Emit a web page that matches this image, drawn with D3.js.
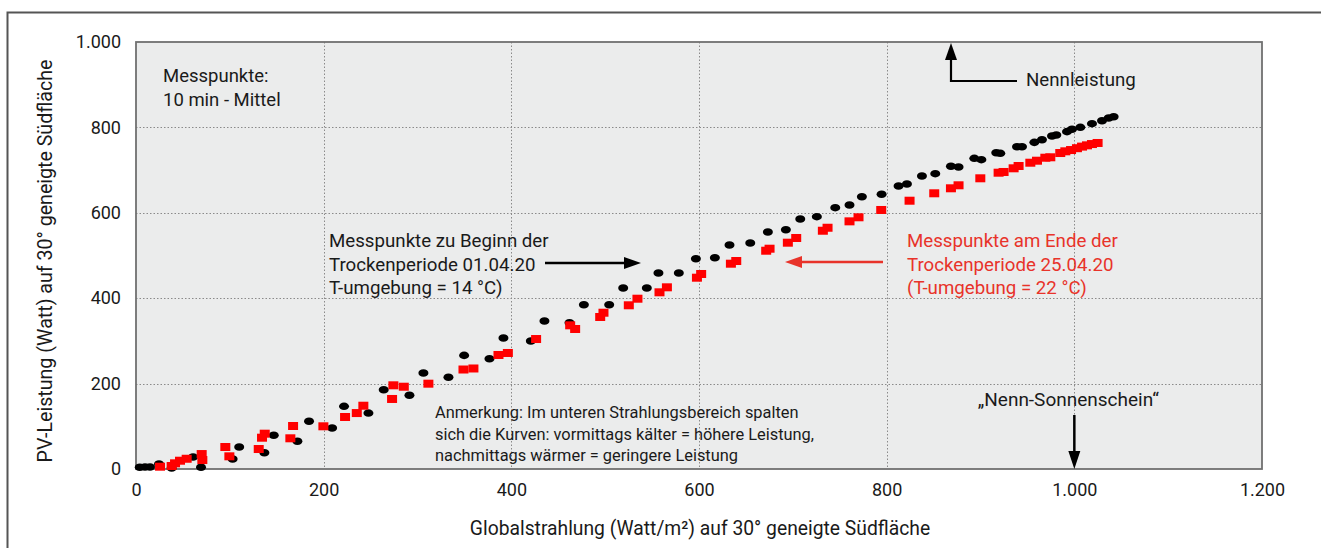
<!DOCTYPE html>
<html lang="de">
<head>
<meta charset="UTF-8"/>
<title>PV-Leistung vs. Globalstrahlung</title>
<style>
  body { margin: 0; background: #fff; }
  svg text { font-family: Roboto, "Open Sans", sans-serif; fill: #1a1a1a; }
</style>
</head>
<body>
<svg id="chart" width="1321" height="548"></svg>
<script src="https://d3js.org/d3.v7.min.js"></script>
<script type="text/javascript">

    // Messpunkte zu Beginn der Trockenperiode (01.04.20) - [Globalstrahlung, PV-Leistung]
    var beginPoints = [
        [4, 4], [9.6, 4.7], [14.9, 4.7], [24.5, 11.7], [38, 2.3], [60.8, 28], [69.3, 4],
        [103, 23.4], [110, 51.5], [136.8, 38], [146.8, 79], [172, 65], [184.4, 111.7],
        [209, 96], [221.7, 146.8], [247.7, 131], [264, 185.7], [291.4, 172.6], [306.3, 224.8],
        [333, 214.8], [349.7, 266], [376.7, 258.3], [391.6, 306.8], [420.8, 299.8],
        [435.3, 346.6], [462, 342.6], [477.3, 384.8], [504.3, 384.8], [519.2, 423.9],
        [544.4, 423.9], [556.8, 459], [578.5, 459], [596.7, 492.5], [616.9, 494.8],
        [632.5, 524.6], [654.6, 529.3], [673.4, 555], [692.6, 560.4], [707.9, 585.5],
        [725.6, 590.9], [745.2, 612], [760.4, 618.3], [773.6, 637.7], [794.6, 643.3],
        [812.7, 662.8], [821.6, 667.4], [837.6, 686.2], [851.8, 691.6], [868.5, 708.9],
        [876.6, 707.3], [893.4, 727.6], [900.9, 724.4], [916.8, 740.7], [921.1, 739.3],
        [938.9, 754.8], [944.2, 754.8], [957.4, 765], [965.5, 771.2], [976.2, 779.8],
        [980.8, 782.2], [992.2, 790], [997.5, 795.6], [1006.4, 800.2], [1018.8, 808.7],
        [1029.5, 815.7], [1036.6, 822], [1041.9, 825]
    ];

    // Messpunkte am Ende der Trockenperiode (25.04.20)
    var endPoints = [
        [25.6, 5.4], [38, 7], [41.6, 13.3], [46.9, 19.4], [54, 24], [70, 35], [70.7, 21],
        [95.2, 51.5], [99.5, 29.7], [130.8, 46.8], [134.3, 73.3], [137.2, 82.7], [164.5, 71.9],
        [167.4, 100.7], [199.7, 100], [222.8, 121.8], [235.3, 131], [242.3, 148.2],
        [272.9, 164], [274.3, 196], [285.4, 192.7], [311.6, 199.8], [349, 233], [359.6, 235.4],
        [386.3, 267], [396.3, 271.7], [426.4, 304.4], [462.7, 336.5], [468, 327.9],
        [494.7, 356], [498.2, 366], [525.2, 383.4], [534.4, 398.8], [557.9, 413.8],
        [565.8, 425.5], [597.8, 448], [602.3, 456.7], [634, 480.8], [639.7, 487.1],
        [671.6, 511.2], [675.2, 515.9], [694.7, 530], [703.6, 541], [732, 558], [737, 565],
        [760.4, 580], [770, 589.5], [794.2, 606.6], [824.4, 628.3], [850.7, 645.7],
        [868.5, 657.4], [876.6, 664.4], [899.8, 680.8], [919.3, 693.9], [924.6, 695.6],
        [935.3, 704.2], [940.6, 709.6], [953.1, 717.3], [960.2, 722], [969.1, 729],
        [974.4, 730], [985, 740], [990.4, 744], [996.5, 747], [1002.8, 751.3],
        [1008.2, 755], [1013.5, 758], [1018.8, 761], [1024.8, 763.5]
    ];

    var xTicks = [0, 200, 400, 600, 800, 1000, 1200];
    var yTicks = [0, 200, 400, 600, 800, 1000];

    var xTitle = "Globalstrahlung (Watt/m²) auf 30° geneigte Südfläche";
    var yTitle = "PV-Leistung (Watt) auf 30° geneigte Südfläche";
    var noteTopLeft = ["Messpunkte:", "10 min - Mittel"];
    var noteBegin = ["Messpunkte zu Beginn der", "Trockenperiode 01.04.20", "T-umgebung = 14 °C)"];
    var noteEnd = ["Messpunkte am Ende der", "Trockenperiode 25.04.20", "(T-umgebung = 22 °C)"];
    var noteRemark = ["Anmerkung: Im unteren Strahlungsbereich spalten",
        "sich die Kurven: vormittags kälter = höhere Leistung,",
        "nachmittags wärmer = geringere Leistung"];

    var svg = d3.select("#chart");
    var red = "#e8332a";

    var plot = {left: 136, top: 42, right: 1262, bottom: 469};

    var x = d3.scaleLinear().domain([0, 1200]).range([plot.left, plot.right]);
    var y = d3.scaleLinear().domain([0, 1000]).range([plot.bottom, plot.top]);

    var de = d3.formatLocale({decimal: ",", thousands: ".", grouping: [3], currency: ["", " €"]});
    var fmt = de.format(",d");

    // outer frame
    svg.append("rect")
        .attr("x", 7.5).attr("y", 12.5)
        .attr("width", 1340).attr("height", 560)
        .attr("fill", "none")
        .attr("stroke", "#555")
        .attr("stroke-width", 2);

    // plot background
    svg.append("rect")
        .attr("x", plot.left).attr("y", plot.top)
        .attr("width", plot.right - plot.left)
        .attr("height", plot.bottom - plot.top)
        .attr("fill", "#ebecec");

    // grid
    var grid = svg.append("g")
        .attr("stroke", "#8a8a8a")
        .attr("stroke-width", 1)
        .attr("stroke-dasharray", "1.5,2");
    grid.selectAll(".vg")
        .data(xTicks.filter(function (d) { return d > 0 && d < 1200; }))
        .enter().append("line")
        .attr("x1", function (d) { return Math.round(x(d)) + 0.5; })
        .attr("x2", function (d) { return Math.round(x(d)) + 0.5; })
        .attr("y1", plot.top).attr("y2", plot.bottom);
    grid.selectAll(".hg")
        .data(yTicks.filter(function (d) { return d > 0 && d < 1000; }))
        .enter().append("line")
        .attr("y1", function (d) { return Math.round(y(d)) + 0.5; })
        .attr("y2", function (d) { return Math.round(y(d)) + 0.5; })
        .attr("x1", plot.left).attr("x2", plot.right);

    // plot border
    svg.append("rect")
        .attr("x", plot.left).attr("y", plot.top)
        .attr("width", plot.right - plot.left)
        .attr("height", plot.bottom - plot.top)
        .attr("fill", "none")
        .attr("stroke", "#707070")
        .attr("stroke-width", 1.8);

    // axes
    var xAxis = svg.append("g")
        .attr("transform", "translate(0," + plot.bottom + ")")
        .call(d3.axisBottom(x).tickValues(xTicks).tickSize(0).tickPadding(14).tickFormat(fmt));
    var yAxis = svg.append("g")
        .attr("transform", "translate(" + plot.left + ",0)")
        .call(d3.axisLeft(y).tickValues(yTicks).tickSize(0).tickPadding(15).tickFormat(fmt));
    [xAxis, yAxis].forEach(function (a) {
        a.select(".domain").remove();
        a.selectAll("text")
            .style("font-family", "Roboto, sans-serif")
            .style("font-size", "18px")
            .attr("fill", "#1a1a1a");
    });

    svg.append("text")
        .attr("x", 700).attr("y", 535)
        .attr("text-anchor", "middle")
        .style("font-size", "19.3px")
        .text(xTitle);
    svg.append("text")
        .attr("transform", "translate(52,261) rotate(-90)")
        .attr("text-anchor", "middle")
        .style("font-size", "19.6px")
        .text(yTitle);

    // data marks
    svg.append("g").selectAll("ellipse")
        .data(beginPoints)
        .enter().append("ellipse")
        .attr("cx", function (d) { return x(d[0]); })
        .attr("cy", function (d) { return y(d[1]); })
        .attr("rx", 5).attr("ry", 3.8)
        .attr("fill", "#000");

    svg.append("g").selectAll("rect")
        .data(endPoints)
        .enter().append("rect")
        .attr("x", function (d) { return x(d[0]) - 5; })
        .attr("y", function (d) { return y(d[1]) - 4; })
        .attr("width", 10).attr("height", 8)
        .attr("fill", "#ff0000");

    // text blocks
    function block(lines, x0, y0, step, size, color) {
        var t = svg.append("text").style("font-size", size + "px");
        if (color) t.style("fill", color);
        lines.forEach(function (l, i) {
            t.append("tspan").attr("x", x0).attr("y", y0 + i * step).text(l);
        });
    }
    block(noteTopLeft, 163, 82, 24, 18.5);
    block(noteBegin, 329, 247, 23.5, 18.7);
    block(noteEnd, 907, 247, 23.5, 18.7, red);
    block(noteRemark, 435, 418, 21.5, 16.4);

    svg.append("text")
        .attr("x", 1026).attr("y", 86)
        .style("font-size", "18.7px")
        .text("Nennleistung");
    svg.append("text")
        .attr("x", x(1000) - 6).attr("y", 406)
        .attr("text-anchor", "middle")
        .style("font-size", "19px")
        .text("„Nenn-Sonnenschein“");

    // arrows
    function arrowHead(tip, dir, len, half, color) {
        // dir: unit vector pointing to the tip
        var bx = tip[0] - dir[0] * len, by = tip[1] - dir[1] * len;
        var px = -dir[1] * half, py = dir[0] * half;
        svg.append("path")
            .attr("d", "M" + tip[0] + "," + tip[1] + "L" + (bx + px) + "," + (by + py) +
                "L" + (bx - px) + "," + (by - py) + "Z")
            .attr("fill", color);
    }
    function line(pts, color, w) {
        svg.append("path")
            .attr("d", d3.line()(pts))
            .attr("fill", "none")
            .attr("stroke", color)
            .attr("stroke-width", w);
    }

    // black arrow -> begin points
    line([[545, 263], [628, 263]], "#000", 2.5);
    arrowHead([641, 263], [1, 0], 17, 6, "#000");

    // red arrow -> end points
    line([[883, 262], [798, 262]], red, 2.5);
    arrowHead([785, 262], [-1, 0], 17, 6, red);

    // Nennleistung
    line([[1017, 81], [951, 81], [951, 56]], "#000", 2.2);
    arrowHead([951, y(1000) + 1], [0, -1], 17, 6, "#000");

    // Nenn-Sonnenschein
    line([[x(1000), 415], [x(1000), 455]], "#000", 2.5);
    arrowHead([x(1000), y(0)], [0, 1], 18, 6, "#000");

</script>
</body>
</html>
